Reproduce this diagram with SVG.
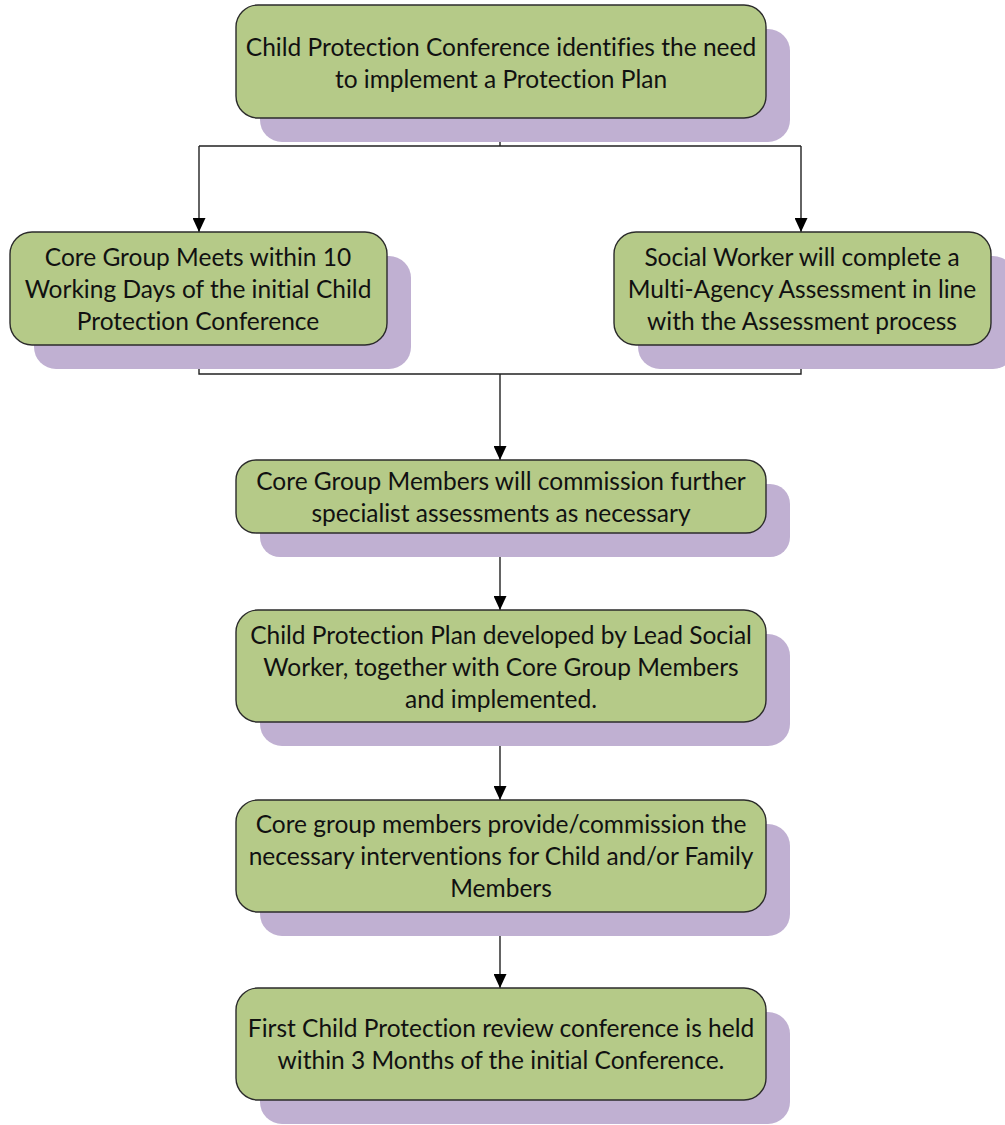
<svg xmlns="http://www.w3.org/2000/svg" width="1005" height="1125" viewBox="0 0 1005 1125">
<style>
.sh{fill:#C0B0D2;}
.bx{fill:#B5CA88;stroke:#2b2b2b;stroke-width:1.4;}
.t{font-family:Lato,"Liberation Sans",sans-serif;font-size:24.5px;fill:#111;text-anchor:middle;font-variant-ligatures:none;}
.c{fill:none;stroke:#222;stroke-width:1.4;}
</style>
<defs>
<marker id="ah" markerWidth="14" markerHeight="13" refX="14" refY="6.5" orient="auto" markerUnits="userSpaceOnUse" viewBox="0 0 14 13">
<path d="M0,0 L14,6.5 L0,13 Z" fill="#000"/>
</marker>
</defs>
<rect width="1005" height="1125" fill="#fff"/>
<g id="connectors">
<path class="c" d="M500,118 V146 M199,146 H801"/>
<path class="c" d="M199,146 V232" marker-end="url(#ah)"/>
<path class="c" d="M801,146 V232" marker-end="url(#ah)"/>
<path class="c" d="M199,345 V374 H801 V345"/>
<path class="c" d="M500,374 V460" marker-end="url(#ah)"/>
<path class="c" d="M500,533 V610" marker-end="url(#ah)"/>
<path class="c" d="M500,722 V800" marker-end="url(#ah)"/>
<path class="c" d="M500,912 V988" marker-end="url(#ah)"/>
</g>
<g id="node1">
<rect class="sh" x="260" y="29" width="530" height="113" rx="22"/>
<rect class="bx" x="236" y="5" width="530" height="113" rx="22"/>
<text class="t" x="501" y="56">Child Protection Conference identifies the need</text>
<text class="t" x="501" y="88">to implement a Protection Plan</text>
</g>
<g id="node2">
<rect class="sh" x="34" y="256" width="377" height="113" rx="22"/>
<rect class="bx" x="10" y="232" width="377" height="113" rx="22"/>
<text class="t" x="198" y="266">Core Group Meets within 10</text>
<text class="t" x="198" y="298">Working Days of the initial Child</text>
<text class="t" x="198" y="330">Protection Conference</text>
</g>
<g id="node3">
<rect class="sh" x="638" y="256" width="377" height="113" rx="22"/>
<rect class="bx" x="614" y="232" width="377" height="113" rx="22"/>
<text class="t" x="802" y="266">Social Worker will complete a</text>
<text class="t" x="802" y="298">Multi-Agency Assessment in line</text>
<text class="t" x="802" y="330">with the Assessment process</text>
</g>
<g id="node4">
<rect class="sh" x="260" y="484" width="530" height="73" rx="20"/>
<rect class="bx" x="236" y="460" width="530" height="73" rx="20"/>
<text class="t" x="501" y="490">Core Group Members will commission further</text>
<text class="t" x="501" y="522">specialist assessments as necessary</text>
</g>
<g id="node5">
<rect class="sh" x="260" y="634" width="530" height="112" rx="22"/>
<rect class="bx" x="236" y="610" width="530" height="112" rx="22"/>
<text class="t" x="501" y="644">Child Protection Plan developed by Lead Social</text>
<text class="t" x="501" y="676">Worker, together with Core Group Members</text>
<text class="t" x="501" y="708">and implemented.</text>
</g>
<g id="node6">
<rect class="sh" x="260" y="824" width="530" height="112" rx="22"/>
<rect class="bx" x="236" y="800" width="530" height="112" rx="22"/>
<text class="t" x="501" y="833">Core group members provide/commission the</text>
<text class="t" x="501" y="865">necessary interventions for Child and/or Family</text>
<text class="t" x="501" y="897">Members</text>
</g>
<g id="node7">
<rect class="sh" x="260" y="1012" width="530" height="112" rx="22"/>
<rect class="bx" x="236" y="988" width="530" height="112" rx="22"/>
<text class="t" x="501" y="1037">First Child Protection review conference is held</text>
<text class="t" x="501" y="1069">within 3 Months of the initial Conference.</text>
</g>
</svg>
